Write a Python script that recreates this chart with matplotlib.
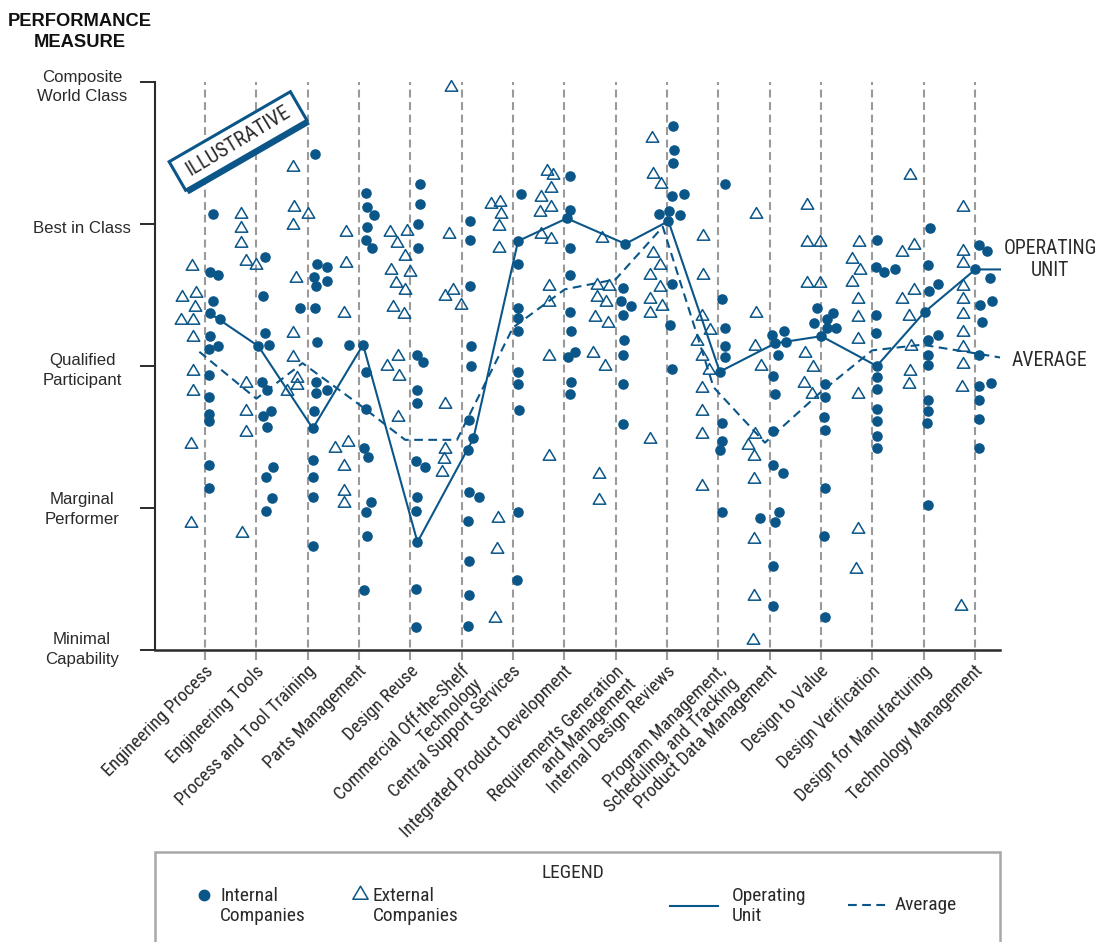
import matplotlib
matplotlib.use("Agg")
import matplotlib.pyplot as plt
from matplotlib import font_manager as fm
from matplotlib.transforms import blended_transform_factory, IdentityTransform
from matplotlib.patches import Rectangle
from matplotlib.path import Path

# ---------------- data ----------------
categories = [
    "Engineering Process", "Engineering Tools", "Process and Tool Training",
    "Parts Management", "Design Reuse", "Commercial Off-the-Shelf\nTechnology",
    "Central Support Services", "Integrated Product Development",
    "Requirements Generation\nand Management", "Internal Design Reviews",
    "Program Management,\nScheduling, and Tracking", "Product Data Management",
    "Design to Value", "Design Verification", "Design for Manufacturing",
    "Technology Management",
]
level_labels = ["Minimal\nCapability", "Marginal\nPerformer", "Qualified\nParticipant",
                "Best in Class", "Composite\nWorld Class"]
level_values = [0, 1, 2, 3, 4]

# (horizontal offset from category, score) for internal companies
internal_companies = [
    [(0.15,3.07),(0.10,2.66),(0.25,2.64),(0.15,2.46),(0.29,2.33),(0.10,2.21),(0.25,2.14),(0.08,2.12),(0.08,1.94),(0.08,1.78),(0.08,1.66),(0.08,1.61),(0.08,1.30),(0.08,1.14)],
    [(0.16,2.77),(0.14,2.49),(0.16,2.23),(0.25,2.15),(0.12,1.89),(0.20,1.83),(0.14,1.65),(0.28,1.68),(0.20,1.57),(0.33,1.29),(0.19,1.22),(0.31,1.07),(0.19,0.98)],
    [(0.14,3.49),(0.18,2.72),(0.37,2.70),(0.12,2.63),(0.37,2.60),(0.16,2.56),(-0.14,2.41),(0.14,2.41),(0.19,2.17),(0.16,1.89),(0.16,1.81),(0.37,1.83),(0.12,1.68),(0.10,1.34),(0.10,1.22),(0.10,1.08),(0.10,0.73)],
    [(0.14,3.22),(0.15,3.12),(0.29,3.06),(0.15,2.98),(0.13,2.89),(0.25,2.83),(-0.20,2.15),(0.14,1.96),(0.14,1.70),(0.10,1.42),(0.18,1.36),(0.23,1.04),(0.14,0.97),(0.16,0.80),(0.10,0.42)],
    [(0.18,3.28),(0.18,3.14),(0.16,3.00),(0.16,2.83),(0.13,2.08),(0.25,2.03),(0.14,1.83),(0.14,1.74),(0.11,1.33),(0.28,1.29),(0.14,1.08),(0.12,0.98),(0.12,0.43),(0.12,0.16)],
    [(0.17,3.02),(0.17,2.89),(0.17,2.56),(0.19,2.14),(0.19,2.00),(0.14,1.62),(0.12,1.41),(0.14,1.11),(0.33,1.08),(0.12,0.91),(0.14,0.63),(0.14,0.39),(0.12,0.17)],
    [(0.15,3.21),(0.10,2.72),(0.10,2.41),(0.10,2.34),(0.10,2.25),(0.10,1.96),(0.10,1.87),(0.12,1.69),(0.10,0.97),(0.08,0.49)],
    [(0.11,3.34),(0.11,3.10),(0.11,2.83),(0.11,2.64),(0.11,2.38),(0.13,2.25),(0.21,2.10),(0.08,2.06),(0.13,1.89),(0.11,1.80)],
    [(0.15,2.55),(0.10,2.46),(0.31,2.42),(0.15,2.36),(0.16,2.18),(0.15,2.08),(0.15,1.87),(0.15,1.59)],
    [(0.12,3.69),(0.14,3.52),(0.12,3.43),(0.10,3.20),(0.33,3.21),(-0.16,3.07),(0.05,3.09),(0.25,3.06),(0.10,2.58),(0.07,2.29),(0.10,1.98)],
    [(0.13,3.28),(0.08,2.47),(0.13,2.27),(0.13,2.14),(0.13,2.06),(0.08,1.60),(0.08,1.47),(0.03,1.41),(0.08,0.97)],
    [(0.04,2.22),(0.28,2.25),(0.33,2.17),(0.16,2.08),(0.06,1.93),(0.10,1.80),(0.06,1.54),(0.06,1.30),(0.26,1.25),(-0.19,0.93),(0.18,0.97),(0.10,0.90),(0.06,0.59),(0.06,0.31)],
    [(-0.07,2.41),(-0.14,2.30),(0.11,2.33),(0.24,2.37),(0.11,2.27),(0.29,2.27),(0.08,1.87),(0.08,1.78),(0.06,1.64),(0.08,1.55),(0.08,1.14),(0.06,0.80),(0.08,0.23)],
    [(0.09,2.89),(0.07,2.70),(0.23,2.66),(0.44,2.68),(0.07,2.36),(0.07,2.23),(0.09,1.92),(0.09,1.84),(0.09,1.70),(0.09,1.61),(0.09,1.51),(0.09,1.42)],
    [(0.12,2.97),(0.08,2.71),(0.10,2.53),(0.28,2.58),(0.08,2.18),(0.28,2.22),(0.08,2.08),(0.08,2.01),(0.08,1.76),(0.08,1.68),(0.06,1.60),(0.08,1.02)],
    [(0.08,2.85),(0.23,2.81),(0.29,2.62),(0.10,2.43),(0.34,2.46),(0.13,2.31),(0.08,2.08),(0.08,1.86),(0.31,1.88),(0.08,1.76),(0.08,1.63),(0.08,1.42)],
]

# (horizontal offset from category, score) for external companies
external_companies = [
    [(-0.25,2.71),(-0.45,2.49),(-0.18,2.52),(-0.19,2.42),(-0.47,2.33),(-0.23,2.33),(-0.23,2.21),(-0.23,1.97),(-0.23,1.83),(-0.27,1.46),(-0.27,0.90)],
    [(-0.30,3.08),(-0.30,2.98),(-0.30,2.87),(-0.21,2.75),(-0.01,2.72),(-0.21,1.89),(-0.21,1.69),(-0.21,1.54),(-0.28,0.83)],
    [(-0.28,3.41),(-0.26,3.13),(0.01,3.08),(-0.28,3.00),(-0.23,2.63),(-0.28,2.24),(-0.28,2.07),(-0.21,1.92),(-0.21,1.87),(-0.41,1.83)],
    [(-0.26,2.95),(-0.26,2.73),(-0.29,2.38),(-0.47,1.43),(-0.22,1.47),(-0.29,1.30),(-0.29,1.13),(-0.29,1.04)],
    [(-0.39,2.95),(-0.07,2.96),(-0.26,2.87),(-0.10,2.78),(-0.37,2.68),(-0.01,2.67),(-0.28,2.59),(-0.10,2.54),(-0.33,2.42),(-0.13,2.37),(-0.24,2.08),(-0.45,2.01),(-0.22,1.94),(-0.24,1.65)],
    [(-0.21,3.97),(-0.25,2.94),(-0.33,2.50),(-0.17,2.54),(-0.01,2.44),(-0.33,1.74),(-0.33,1.42),(-0.34,1.35),(-0.38,1.26)],
    [(-0.43,3.15),(-0.25,3.16),(-0.24,3.08),(-0.27,2.99),(-0.27,2.84),(-0.29,0.94),(-0.31,0.72),(-0.35,0.23)],
    [(-0.34,3.38),(-0.21,3.35),(-0.25,3.26),(-0.45,3.20),(-0.26,3.13),(-0.47,3.09),(-0.45,2.94),(-0.26,2.90),(-0.29,2.57),(-0.30,2.46),(-0.29,2.08),(-0.30,1.37)],
    [(-0.27,2.91),(-0.37,2.58),(-0.13,2.57),(-0.37,2.49),(-0.19,2.46),(-0.40,2.35),(-0.14,2.31),(-0.44,2.10),(-0.21,2.01),(-0.33,1.25),(-0.33,1.06)],
    [(-0.29,3.61),(-0.27,3.36),(-0.11,3.29),(-0.27,2.80),(-0.13,2.72),(-0.32,2.65),(-0.13,2.56),(-0.32,2.48),(-0.09,2.43),(-0.32,2.38),(-0.32,1.49)],
    [(-0.30,2.92),(-0.30,2.65),(-0.32,2.36),(-0.16,2.26),(-0.41,2.18),(-0.32,2.08),(-0.18,1.98),(-0.32,1.85),(-0.32,1.69),(-0.32,1.53),(-0.32,1.16)],
    [(-0.26,3.08),(-0.26,2.38),(-0.29,2.15),(-0.16,2.01),(-0.29,1.53),(-0.42,1.45),(-0.31,1.37),(-0.31,1.21),(-0.31,0.79),(-0.31,0.39),(-0.33,0.08)],
    [(-0.27,3.14),(-0.27,2.88),(-0.01,2.88),(-0.27,2.59),(-0.01,2.59),(-0.31,2.10),(-0.15,2.00),(-0.33,1.89),(-0.18,1.81)],
    [(-0.26,2.88),(-0.40,2.76),(-0.24,2.68),(-0.40,2.60),(-0.28,2.48),(-0.28,2.35),(-0.28,2.20),(-0.28,1.81),(-0.28,0.86),(-0.32,0.58)],
    [(-0.26,3.35),(-0.42,2.81),(-0.19,2.86),(-0.19,2.54),(-0.42,2.48),(-0.29,2.36),(-0.24,2.15),(-0.27,1.97),(-0.29,1.88)],
    [(-0.23,3.13),(-0.23,2.82),(-0.23,2.73),(-0.23,2.57),(-0.23,2.48),(-0.23,2.37),(-0.23,2.25),(-0.23,2.14),(-0.23,2.02),(-0.25,1.86),(-0.27,0.32)],
]

operating_offset = [0.10,0.04,0.10,0.08,0.14,0.23,0.10,0.05,0.19,0.03,0.03,0.11,0.01,0.09,0.02,0.01]
operating_score  = [2.37,2.14,1.56,2.15,0.76,1.49,2.88,3.04,2.86,3.02,1.96,2.16,2.21,2.00,2.38,2.68]

average_offset = [-0.11,0.0,-0.10,0.0,-0.10,-0.09,0.0,0.01,0.0,-0.08,-0.09,-0.09,-0.02,0.0,-0.03,0.0]
average_score  = [2.10,1.77,2.02,1.73,1.48,1.48,2.27,2.54,2.61,2.98,1.85,1.46,1.81,2.11,2.15,2.09]
average_tail = 2.06

# ---------------- fonts ----------------
W, H, DPI = 1101, 942, 100
BLUE = "#0b5688"
GRAY = "#9a9a9a"
DARK = "#2a2a2a"


def _find(fam, **kw):
    try:
        return fm.findfont(fm.FontProperties(family=fam, **kw), fallback_to_default=False)
    except Exception:
        return None


def pick_condensed():
    for fam in ["Roboto Condensed", "Liberation Sans Narrow", "Open Sans Condensed",
                "Noto Sans Condensed", "DejaVu Sans Condensed", "Arial Narrow"]:
        p = _find(fam)
        if p:
            return p
    best = None
    for f in fm.fontManager.ttflist:
        nm = f.fname.lower()
        if ("condensed" in nm or "narrow" in nm or f.stretch in ("condensed", "semi-condensed")) \
                and f.style == "normal" and "bold" not in nm and "light" not in nm \
                and "thin" not in nm and "black" not in nm and "medium" not in nm \
                and "semibold" not in nm and "extra" not in nm and "italic" not in nm \
                and "mono" not in nm and "serif" not in nm.replace("sans", ""):
            if best is None or ("semicondensed" in best.lower() and "semicondensed" not in nm):
                best = f.fname
    if best:
        return best
    return _find("Roboto") or _find("Liberation Sans") or _find("DejaVu Sans")


NARROW_FILE = pick_condensed()
SANS = "Liberation Sans" if _find("Liberation Sans") else "DejaVu Sans"


def narrow(size):
    return fm.FontProperties(fname=NARROW_FILE, size=size)


def sans(size, weight="normal"):
    return fm.FontProperties(family=SANS, size=size, weight=weight)


tri = Path([(-1, -0.75), (1, -0.75), (0, 0.95), (-1, -0.75)],
           [Path.MOVETO, Path.LINETO, Path.LINETO, Path.CLOSEPOLY])

fig = plt.figure(figsize=(W / DPI, H / DPI), dpi=DPI)
fig.patch.set_facecolor("white")
renderer = fig.canvas.get_renderer()


def fit(text, target_px, propfn, base=12.0, **kw):
    t = fig.text(0, 0, text, fontproperties=propfn(base, **kw))
    w = t.get_window_extent(renderer).width
    t.remove()
    return base * target_px / w


ax = fig.add_axes([155 / W, 1 - 650 / H, 845 / W, 568 / H])
XMAX = 15.49
ax.set_xlim(-0.974, XMAX)
ax.set_ylim(0, 4)

for s in ("top", "right"):
    ax.spines[s].set_visible(False)
ax.spines["left"].set_linewidth(1.5)
ax.spines["left"].set_color(DARK)
ax.spines["bottom"].set_linewidth(1.8)
ax.spines["bottom"].set_color(DARK)
ax.set_xticks([])
ax.set_yticks(level_values)
ax.set_yticklabels([])
ax.tick_params(axis="y", length=10.8, width=1.4, color=DARK, direction="out")

# vertical dashed guides
ax.vlines(range(len(categories)), -0.07, 4, colors=GRAY, linewidth=1.5,
          linestyles=(0, (3.8, 2.2)), clip_on=False, zorder=1)

# points
for i in range(len(categories)):
    ix = [i + d for d, _ in internal_companies[i]]
    iy = [v for _, v in internal_companies[i]]
    ax.plot(ix, iy, "o", ms=6.6, color=BLUE, mec=BLUE, ls="none", zorder=4, clip_on=False)
    ex = [i + d for d, _ in external_companies[i]]
    ey = [v for _, v in external_companies[i]]
    ax.plot(ex, ey, marker=tri, ms=9.0, mfc="none", mec=BLUE, mew=1.1, ls="none",
            zorder=4, clip_on=False)

# operating unit and average lines
opx = [i + d for i, d in enumerate(operating_offset)]
ax.plot(opx + [XMAX], operating_score + [operating_score[-1]], "-", color=BLUE, lw=1.5,
        zorder=3, clip_on=False)
ax.plot(opx, operating_score, "o", ms=6.6, color=BLUE, zorder=4)
avx = [i + d for i, d in enumerate(average_offset)]
ax.plot(avx + [XMAX], average_score + [average_tail], color=BLUE, lw=1.5,
        dashes=(4.2, 2.6), zorder=3, clip_on=False)

# y level labels
ylab_size = fit("Best in Class", 98, sans)
bt = blended_transform_factory(fig.transFigure, ax.transData)
label_pos = [0.005, 0.99, 1.97, 2.965, 3.965]
for v, lab in zip(label_pos, level_labels):
    ax.text(82 / W, v, lab, transform=bt, ha="center", va="center",
            fontproperties=sans(ylab_size), color=DARK, linespacing=1.38)

# category labels
cat_size = fit("Engineering Process", 148, narrow)
for i, lab in enumerate(categories):
    ax.text(i - 0.02, -0.085, lab, rotation=45, rotation_mode="anchor", ha="right",
            va="top", fontproperties=narrow(cat_size), color=DARK, linespacing=1.0,
            clip_on=False)

# title
title_size = fit("PERFORMANCE", 144, sans, weight="bold")
fig.text(80 / W, 1 - 32 / H, "PERFORMANCE\nMEASURE", ha="center", va="center",
         fontproperties=sans(title_size, "bold"), color="#111111", linespacing=1.35)

# line end labels
end_size = fit("AVERAGE", 75, narrow)
fig.text(1050 / W, 1 - 259 / H, "OPERATING\nUNIT", ha="center", va="center",
         fontproperties=narrow(end_size), color=DARK, linespacing=1.2)
fig.text(1012 / W, 1 - 360 / H, "AVERAGE", ha="left", va="center",
         fontproperties=narrow(end_size), color=DARK)

# ILLUSTRATIVE stamp
cx, cy = 238, H - 141
shadow = Rectangle((cx - 70 + 3, cy - 16.5 - 4), 140, 33, angle=30, rotation_point="center",
                   transform=IdentityTransform(), facecolor=BLUE, edgecolor=BLUE, lw=0)
box = Rectangle((cx - 70, cy - 16.5), 140, 33, angle=30, rotation_point="center",
                transform=IdentityTransform(), facecolor="white", edgecolor=BLUE, lw=2.2)
fig.add_artist(shadow)
fig.add_artist(box)
stamp_size = fit("ILLUSTRATIVE", 118, narrow)
fig.text(cx / W, cy / H, "ILLUSTRATIVE", rotation=31, ha="center", va="center",
         rotation_mode="anchor", fontproperties=narrow(stamp_size), color=DARK)

# legend box
leg = Rectangle((155 / W, -0.05), 845 / W, (942 - 852) / H + 0.05, transform=fig.transFigure,
                facecolor="none", edgecolor="#a8a8a8", lw=1.8)
fig.add_artist(leg)
leg_size = fit("Internal", 58, narrow)
fig.text(573 / W, 1 - 873 / H, "LEGEND", ha="center", va="center",
         fontproperties=narrow(leg_size), color=DARK)
fig.add_artist(plt.Line2D([204 / W], [1 - 895 / H], marker="o", ms=7.5, color=BLUE,
                          transform=fig.transFigure))
fig.text(220 / W, 1 - 906 / H, "Internal\nCompanies", ha="left", va="center",
         fontproperties=narrow(leg_size), color=DARK, linespacing=1.1)
fig.add_artist(plt.Line2D([360 / W], [1 - 893 / H], marker=tri, ms=11, mfc="none", mec=BLUE,
                          mew=1.1, transform=fig.transFigure))
fig.text(373 / W, 1 - 906 / H, "External\nCompanies", ha="left", va="center",
         fontproperties=narrow(leg_size), color=DARK, linespacing=1.1)
fig.add_artist(plt.Line2D([670 / W, 718 / W], [1 - 906 / H] * 2, color=BLUE, lw=1.5,
                          transform=fig.transFigure))
fig.text(732 / W, 1 - 906 / H, "Operating\nUnit", ha="left", va="center",
         fontproperties=narrow(leg_size), color=DARK, linespacing=1.1)
fig.add_artist(plt.Line2D([848 / W, 888 / W], [1 - 905 / H] * 2, color=BLUE, lw=1.5,
                          dashes=(4.2, 2.6), transform=fig.transFigure))
fig.text(895 / W, 1 - 905 / H, "Average", ha="left", va="center",
         fontproperties=narrow(leg_size), color=DARK)

fig.savefig("out.png", dpi=DPI, facecolor="white")
